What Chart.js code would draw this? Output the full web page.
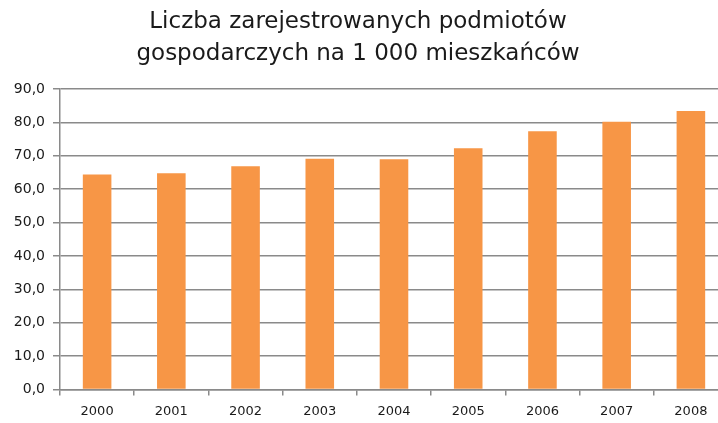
<!DOCTYPE html>
<html>
<head>
<meta charset="utf-8">
<script src="https://cdn.jsdelivr.net/npm/chart.js@4/dist/chart.umd.min.js"></script>
<style>
body{margin:0;background:#fff;}
#wrap{position:relative;width:718px;height:423px;overflow:hidden;}
#inner{position:absolute;left:-12px;top:0;width:740px;height:429px;}
</style>
</head>
<body>
<div id="wrap"><div id="inner"><canvas id="firmChart" width="740" height="429"></canvas></div></div>
<script>
// lata i liczba podmiotów na 1000 mieszkańców
const years = ["2000","2001","2002","2003","2004","2005","2006","2007","2008"];
const firmsPer1000 = [64.4, 64.8, 66.9, 69.1, 69.0, 72.3, 77.4, 80.2, 83.4];
const titleLines = ["Liczba zarejestrowanych podmiotów", "gospodarczych na 1 000 mieszkańców"];
const yMin = 0, yMax = 90, yStep = 10;

const gridGray = "#8a8a8a";
const fontName = "DejaVu Sans";

new Chart(document.getElementById("firmChart"),{

type:"bar",

data:{
labels:years,
datasets:[{
label:"Podmioty",
data:firmsPer1000,
backgroundColor:"#f79646",
barPercentage:0.385,
categoryPercentage:1
}]
},

options:{
responsive:false,
animation:false,
layout:{padding:{left:0,right:0,top:0,bottom:2}},
plugins:{
legend:{display:false},
tooltip:{enabled:false},
title:{
display:true,
text:titleLines,
color:"#1a1a1a",
font:{family:fontName,size:23,weight:"normal",lineHeight:1.35},
padding:{top:7,bottom:20}
}
},
scales:{
x:{
grid:{display:true,drawOnChartArea:false,color:gridGray,lineWidth:1.5,tickLength:6,offset:true},
border:{color:gridGray,width:1.5},
ticks:{color:"#1a1a1a",font:{family:fontName,size:13},padding:8,maxRotation:0}
},
y:{
min:yMin,
max:yMax,
afterFit:s=>{s.width=72;},
ticks:{
stepSize:yStep,
color:"#1a1a1a",
font:{family:fontName,size:14},
padding:8,
callback:v=>v.toFixed(1).replace(".",",")
},
grid:{color:gridGray,lineWidth:1.5,tickLength:7},
border:{color:gridGray,width:1.5}
}
}
}

});
</script>
</body>
</html>
